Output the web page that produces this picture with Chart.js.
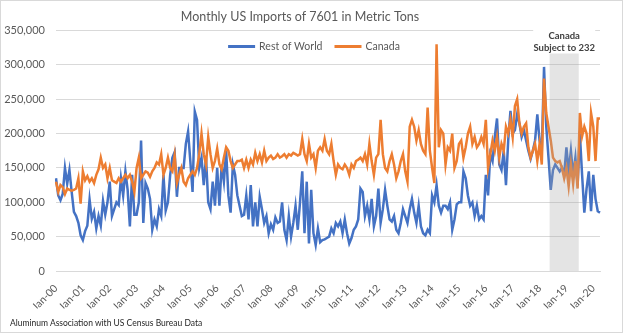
<!DOCTYPE html>
<html>
<head>
<meta charset="utf-8">
<script src="https://cdn.jsdelivr.net/npm/chart.js@4.4.1/dist/chart.umd.min.js"></script>
<style>
  html, body { margin: 0; padding: 0; background: #fff; }
  #wrap { position: relative; width: 624px; height: 333px; }
  #frame { position: absolute; left: 0; top: 0; width: 621px; height: 331px; border: 1px solid #d9d9d9; pointer-events: none; }
  #source { position: absolute; left: 10px; top: 318px; font: 8.5px Lato, "Open Sans", sans-serif; color: #262626; white-space: nowrap; }
</style>
</head>
<body>
<div id="wrap">
  <canvas id="importsChart" width="624" height="333"></canvas>
  <div id="source">Aluminum Association with US Census Bureau Data</div>
  <div id="frame"></div>
</div>
<script>
// Monthly US imports of 7601 (unwrought aluminium), thousand metric tons, Jan-00 .. Apr-20

const monthNames = ['Jan', 'Feb', 'Mar', 'Apr', 'May', 'Jun', 'Jul', 'Aug', 'Sep', 'Oct', 'Nov', 'Dec'];
const yearCodes = ['00', '01', '02', '03', '04', '05', '06', '07', '08', '09', '10',
    '11', '12', '13', '14', '15', '16', '17', '18', '19', '20'];
const monthsInLastYear = 4;
const tickMonth = 'Jan';

const restOfWorld = [
    135, 110, 103, 112, 150, 127, 147, 115, 86, 80, 70, 52,
    45, 58, 66, 104, 76, 86, 62, 80, 66, 102, 82, 100,
    130, 80, 90, 100, 96, 135, 110, 145, 118, 65, 140, 82,
    82, 100, 190, 70, 128, 120, 105, 60, 75, 65, 90, 80,
    140, 88, 100, 140, 165, 173, 108, 150, 150, 150, 185, 203,
    160, 115, 232, 220, 150, 165, 125, 165, 100, 90, 130, 95,
    150, 95, 155, 130, 175, 110, 85, 155, 140, 110, 95, 80,
    82, 110, 75, 125, 65, 100, 65, 108, 90, 70, 80, 55,
    68, 60, 78, 70, 72, 100, 60, 45, 80, 50, 70, 95,
    60, 100, 145, 55, 130, 40, 118, 55, 38, 62, 42, 45,
    46, 48, 50, 62, 55, 70, 65, 72, 55, 75, 55, 40,
    48, 60, 65, 75, 120, 115, 80, 95, 75, 105, 65, 80,
    120, 70, 90, 118, 95, 75, 72, 80, 60, 55, 70, 90,
    80, 70, 90, 105, 85, 70, 95, 65, 55, 52, 60, 55,
    110, 100, 125, 95, 85, 95, 95, 90, 100, 60, 75, 97,
    100, 100, 145, 135, 110, 95, 100, 80, 95, 75, 80, 75,
    140, 110, 170, 160, 195, 222, 155, 147, 175, 125, 190, 233,
    200, 205, 228, 215, 195, 205, 190, 175, 163, 175, 190, 228,
    190, 175, 297, 210, 165, 118, 147, 155, 150, 145, 150, 140,
    180, 145, 175, 140, 165, 125, 200, 140, 85, 120, 145, 87,
    140, 105, 87, 85
];

const canada = [
    130, 115, 125, 122, 112, 120, 118, 117, 118, 120, 135, 98,
    145, 132, 138, 130, 135, 128, 140, 148, 165, 150, 155, 135,
    150, 132, 130, 128, 135, 130, 135, 140, 135, 140, 130, 115,
    150, 165, 135, 140, 145, 143, 137, 145, 150, 158, 155, 170,
    140, 150, 165, 150, 145, 168, 128, 140, 150, 130, 125, 135,
    140, 145, 140, 150, 170, 200, 170, 155, 195, 170, 150, 160,
    178, 155, 148, 165, 180, 175, 160, 150, 155, 160, 160, 162,
    150, 162, 150, 162, 155, 172, 160, 170, 158, 175, 160, 165,
    168, 163, 165, 170, 165, 167, 170, 165, 170, 168, 172, 170,
    168, 170, 192, 170, 160, 185, 165, 170, 150, 175, 180, 175,
    192, 175, 170, 185, 160, 140, 155, 150, 148, 155, 150, 140,
    155, 150, 160, 162, 165, 160, 170, 155, 185, 160, 140, 165,
    170, 220, 170, 150, 145, 160, 170, 155, 135, 145, 160, 170,
    145, 130, 210, 220, 210, 190, 205, 185, 175, 170, 238, 175,
    150, 128, 330, 180, 205, 200, 155, 180, 175, 200, 150, 160,
    185, 190, 165, 180, 200, 210, 185, 195, 180, 185, 195, 185,
    220, 150, 170, 190, 175, 195, 165, 185, 175, 210, 200, 220,
    195, 240, 250, 215, 200, 210, 215, 180, 165, 175, 185, 160,
    185, 155, 280, 230, 210, 190, 165, 160, 158, 160, 150, 135,
    150, 123, 155, 127, 160, 120, 230, 196, 210, 200, 160, 230,
    210, 160, 222, 222
];

// Section 232 period for Canada
const shadeFrom = 'Jun-18';
const shadeTo = 'Jun-19';
const shadeText = ['Canada', 'Subject to 232'];

const labels = [];
yearCodes.forEach((y, yi) => {
    const n = yi === yearCodes.length - 1 ? monthsInLastYear : 12;
    for (let m = 0; m < n; m++) labels.push(monthNames[m] + '-' + y);
});

const FONT = 'Lato, "Open Sans", sans-serif';

const shade232 = {
    id: 'shade232',
    afterDatasetsDraw(chart) {
        const { ctx, chartArea, scales } = chart;
        const x = scales.x;
        const step = x.getPixelForValue(1) - x.getPixelForValue(0);
        const x0 = x.getPixelForValue(labels.indexOf(shadeFrom)) - step / 2;
        const x1 = x.getPixelForValue(labels.indexOf(shadeTo)) + step / 2;
        ctx.save();
        ctx.fillStyle = 'rgba(165,165,165,0.3)';
        ctx.fillRect(x0, chartArea.top, x1 - x0, chartArea.bottom - chartArea.top);
        const cx = (x0 + x1) / 2;
        ctx.fillStyle = '#fff';
        ctx.fillRect(cx - 31, chartArea.top - 2, 62, 25);
        ctx.fillStyle = '#404040';
        ctx.font = 'bold 9.5px ' + FONT;
        ctx.textAlign = 'center';
        ctx.textBaseline = 'middle';
        ctx.fillText(shadeText[0], cx, chartArea.top + 5);
        ctx.fillText(shadeText[1], cx, chartArea.top + 17);
        ctx.restore();
    }
};

// Excel-style legend: line samples in a single row inside the plot
const lineLegend = {
    id: 'lineLegend',
    afterDraw(chart) {
        const { ctx, chartArea, width } = chart;
        const sample = 27, gap = 4, between = 12;
        ctx.save();
        ctx.font = '10.5px ' + FONT;
        const items = chart.data.datasets.map(ds => ({ text: ds.label, color: ds.borderColor, w: ctx.measureText(ds.label).width }));
        const total = items.reduce((s, it) => s + sample + gap + it.w, 0) + between * (items.length - 1);
        let x = width / 2 + 2 - total / 2;
        const y = chartArea.top + 16;
        ctx.textBaseline = 'middle';
        ctx.textAlign = 'left';
        items.forEach(it => {
            ctx.fillStyle = it.color;
            ctx.fillRect(x, y - 1.5, sample, 3);
            x += sample + gap;
            ctx.fillStyle = '#595959';
            ctx.fillText(it.text, x, y);
            x += it.w + between;
        });
        ctx.restore();
    }
};

window.addEventListener('DOMContentLoaded', () => {
    const ctx = document.getElementById('importsChart').getContext('2d');
    new Chart(ctx, {
        type: 'line',
        data: {
            labels,
            datasets: [
                { label: 'Rest of World', data: restOfWorld.map(v => v * 1000), borderColor: '#4472C4', backgroundColor: '#4472C4', borderWidth: 2.5, pointRadius: 0, order: 2 },
                { label: 'Canada', data: canada.map(v => v * 1000), borderColor: '#ED7D31', backgroundColor: '#ED7D31', borderWidth: 2.5, pointRadius: 0, order: 1 }
            ]
        },
        options: {
            responsive: false,
            animation: false,
            devicePixelRatio: 1,
            layout: { padding: { left: 0, right: 24, top: 0, bottom: 24.4 } },
            plugins: {
                title: {
                    display: true, text: 'Monthly US Imports of 7601 in Metric Tons', color: '#595959',
                    font: { family: FONT, size: 12.5, weight: 'normal' }, padding: { top: 9.5, bottom: 6 }
                },
                legend: { display: false },
                tooltip: { enabled: false }
            },
            scales: {
                x: {
                    grid: { display: false },
                    border: { color: '#d9d9d9' },
                    ticks: {
                        autoSkip: false, minRotation: 45, maxRotation: 45, color: '#595959',
                        font: { family: FONT, size: 10.5 },
                        callback: function (val) {
                            const lbl = this.getLabelForValue(val);
                            return lbl.startsWith(tickMonth) ? lbl : null;
                        }
                    },
                    afterFit: s => { s.height = 37.6; }
                },
                y: {
                    min: 0, max: 350000,
                    grid: { color: '#d9d9d9', drawTicks: false },
                    border: { display: false },
                    ticks: {
                        stepSize: 50000, padding: 11, color: '#595959',
                        font: { family: FONT, size: 11 },
                        callback: v => v.toLocaleString('en-US')
                    },
                    afterFit: s => { s.width = 56; }
                }
            }
        },
        plugins: [shade232, lineLegend]
    });
});
</script>
</body>
</html>
